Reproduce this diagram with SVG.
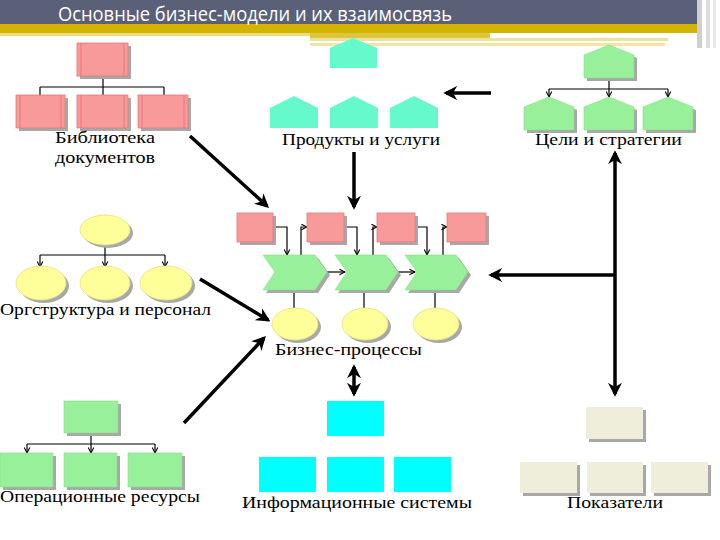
<svg xmlns="http://www.w3.org/2000/svg" width="720" height="540" viewBox="0 0 720 540">
<style>
.lbl{font-family:"Liberation Serif","DejaVu Serif",serif;font-size:17px;fill:#000}
.pink{fill:#f99a9a;stroke:#e87878;stroke-width:0.8}
.aqua{fill:#66f9cc}
.lg{fill:#99f09b;stroke:#88dd8a;stroke-width:0.6}
.yel{fill:#ffff99;stroke:#e6e080;stroke-width:0.8}
.cyan{fill:#00ffff}
.beige{fill:#eeeedb}
.sh{fill:#a8a8a8}
.thin{fill:none;stroke:#000;stroke-width:1.2}
.thick{fill:none;stroke:#000;stroke-width:3.5}
</style>
<defs>
<marker id="sa" viewBox="0 0 10 10" refX="9" refY="5" markerWidth="7" markerHeight="7" markerUnits="userSpaceOnUse" orient="auto">
<path d="M1,1 L9,5 L1,9" fill="none" stroke="#000" stroke-width="1.5"/>
</marker>
<marker id="ba" viewBox="0 0 10 10" refX="8" refY="5" markerWidth="4" markerHeight="4" orient="auto-start-reverse">
<path d="M0,0 L10,5 L0,10 L3,5 Z" fill="#000"/>
</marker>
</defs>
<rect width="720" height="540" fill="#fff"/>
<g id="header">
<rect x="0" y="0" width="697" height="24" fill="#5b6079"/>
<rect x="0" y="24" width="697" height="9" fill="#d4b400"/>
<rect x="0" y="33" width="310" height="3" fill="#ecdc80"/>
<rect x="310" y="33" width="180" height="5" fill="#dcc640"/>
<rect x="310" y="38" width="358" height="3" fill="#eee29a"/>
<rect x="310" y="43" width="355" height="3" fill="#f0e6a8"/>
<rect x="697" y="0" width="5" height="48" fill="#cfcfcf"/>
<rect x="706" y="0" width="4" height="48" fill="#dcdcdc"/>
<rect x="713" y="0" width="3" height="48" fill="#e8e8e8"/>
<text x="58" y="21" font-family="'Open Sans','Noto Sans','DejaVu Sans',sans-serif" font-size="20" fill="#fff" textLength="394" lengthAdjust="spacingAndGlyphs">Основные бизнес-модели и их взаимосвязь</text>
</g>
<g id="connectors">
<path class="thin" d="M103,76 V87 M40,87 H164 M40,87 V95 M103,87 V95 M164,87 V95"/>
<path class="thin" d="M609,78 V89 M549,89 H668"/>
<path class="thin" marker-end="url(#sa)" d="M549,89 V97"/>
<path class="thin" marker-end="url(#sa)" d="M609,89 V97"/>
<path class="thin" marker-end="url(#sa)" d="M668,89 V97"/>
<path class="thin" d="M105,245 V255 M40,255 H165"/>
<path class="thin" marker-end="url(#sa)" d="M40,255 V267"/>
<path class="thin" marker-end="url(#sa)" d="M105,255 V267"/>
<path class="thin" marker-end="url(#sa)" d="M165,255 V267"/>
<path class="thin" d="M91,433 V444 M27,444 H155"/>
<path class="thin" marker-end="url(#sa)" d="M27,444 V453"/>
<path class="thin" marker-end="url(#sa)" d="M91,444 V453"/>
<path class="thin" marker-end="url(#sa)" d="M155,444 V453"/>
<path class="thin" marker-end="url(#sa)" d="M273,227 H287 V255"/>
<path class="thin" marker-end="url(#sa)" d="M301,255 V227 H307"/>
<path class="thin" marker-end="url(#sa)" d="M344,227 H357 V255"/>
<path class="thin" marker-end="url(#sa)" d="M373,255 V227 H377"/>
<path class="thin" marker-end="url(#sa)" d="M415,227 H427 V255"/>
<path class="thin" marker-end="url(#sa)" d="M443,255 V227 H447"/>
<path class="thin" marker-end="url(#sa)" d="M327,272 H345"/>
<path class="thin" marker-end="url(#sa)" d="M398,272 H415"/>
<path class="thin" d="M294,290 V308 M364,290 V308 M435,290 V308"/>
<path class="thick" marker-end="url(#ba)" d="M491,93 H446"/>
<path class="thick" marker-end="url(#ba)" d="M190,136 L267,206"/>
<path class="thick" marker-end="url(#ba)" d="M354,152 V207"/>
<path class="thick" marker-end="url(#ba)" d="M200,279 L268,320"/>
<path class="thick" marker-end="url(#ba)" d="M184,423 L264,338"/>
<path class="thick" marker-start="url(#ba)" marker-end="url(#ba)" d="M354,367 V394"/>
<path class="thick" marker-start="url(#ba)" marker-end="url(#ba)" d="M615,153 V394"/>
<path class="thick" marker-end="url(#ba)" d="M615,275 H491"/>
</g>
<g id="library">
<rect class="sh" x="80" y="46" width="51" height="33"/>
<rect class="pink" x="77" y="43" width="51" height="33"/>
<rect class="sh" x="19" y="98" width="49" height="33"/>
<rect class="pink" x="16" y="95" width="49" height="33"/>
<rect class="sh" x="80" y="98" width="51" height="33"/>
<rect class="pink" x="77" y="95" width="51" height="33"/>
<rect class="sh" x="141" y="98" width="50" height="33"/>
<rect class="pink" x="138" y="95" width="50" height="33"/>
<path d="M20,95 V128 M61,95 V128 M81,95 V128 M124,95 V128 M142,95 V128 M184,95 V128 M81,43 V76 M124,43 V76" stroke="#e57070" stroke-width="0.8"/>
<text class="lbl" x="55" y="143" textLength="100" lengthAdjust="spacingAndGlyphs">Библиотека</text>
<text class="lbl" x="55" y="163" textLength="100" lengthAdjust="spacingAndGlyphs">документов</text>
</g>
<g id="products">
<path class="aqua" d="M330,48 L353,38 L377,48 V68 H330 Z"/>
<path class="aqua" d="M270,108 L294,96 L318,108 V128 H270 Z"/>
<path class="aqua" d="M330,108 L354,96 L378,108 V128 H330 Z"/>
<path class="aqua" d="M390,108 L414,96 L438,108 V128 H390 Z"/>
<text class="lbl" x="282" y="145" textLength="158" lengthAdjust="spacingAndGlyphs">Продукты и услуги</text>
</g>
<g id="goals">
<path class="sh" d="M587,58 L612,48 L637,58 V81 H587 Z"/>
<path class="lg" d="M584,55 L609,45 L634,55 V78 H584 Z"/>
<path class="sh" d="M527,110 L552,100 L577,110 V133 H527 Z"/>
<path class="lg" d="M524,107 L549,97 L574,107 V130 H524 Z"/>
<path class="sh" d="M587,110 L612,100 L637,110 V133 H587 Z"/>
<path class="lg" d="M584,107 L609,97 L634,107 V130 H584 Z"/>
<path class="sh" d="M646,110 L671,100 L696,110 V133 H646 Z"/>
<path class="lg" d="M643,107 L668,97 L693,107 V130 H643 Z"/>
<text class="lbl" x="535" y="145" textLength="147" lengthAdjust="spacingAndGlyphs">Цели и стратегии</text>
</g>
<g id="org">
<ellipse class="sh" cx="108" cy="233" rx="25" ry="15"/>
<ellipse class="yel" cx="105" cy="230" rx="25" ry="15"/>
<ellipse class="sh" cx="44" cy="286" rx="25" ry="17"/>
<ellipse class="yel" cx="41" cy="283" rx="25" ry="17"/>
<ellipse class="sh" cx="108" cy="286" rx="25" ry="17"/>
<ellipse class="yel" cx="105" cy="283" rx="25" ry="17"/>
<ellipse class="sh" cx="169" cy="286" rx="26" ry="17"/>
<ellipse class="yel" cx="166" cy="283" rx="26" ry="17"/>
<text class="lbl" x="0" y="315" textLength="211" lengthAdjust="spacingAndGlyphs">Оргструктура и персонал</text>
</g>
<g id="processes">
<rect class="sh" x="240" y="216" width="36" height="29"/>
<rect class="pink" x="237" y="213" width="36" height="29"/>
<rect class="sh" x="310" y="216" width="37" height="29"/>
<rect class="pink" x="307" y="213" width="37" height="29"/>
<rect class="sh" x="380" y="216" width="38" height="29"/>
<rect class="pink" x="377" y="213" width="38" height="29"/>
<rect class="sh" x="450" y="216" width="39" height="29"/>
<rect class="pink" x="447" y="213" width="39" height="29"/>
<path class="sh" d="M266,258 H318 L330,275 L318,293 H266 L278,275 Z"/>
<path class="lg" d="M263,255 H315 L327,272 L315,290 H263 L275,272 Z"/>
<path class="sh" d="M338,258 H389 L401,275 L389,293 H338 L350,275 Z"/>
<path class="lg" d="M335,255 H386 L398,272 L386,290 H335 L347,272 Z"/>
<path class="sh" d="M408,258 H459 L471,275 L459,293 H408 L420,275 Z"/>
<path class="lg" d="M405,255 H456 L468,272 L456,290 H405 L417,272 Z"/>
<ellipse class="sh" cx="298" cy="327" rx="23" ry="16"/>
<ellipse class="yel" cx="295" cy="324" rx="23" ry="16"/>
<ellipse class="sh" cx="368" cy="327" rx="23" ry="16"/>
<ellipse class="yel" cx="365" cy="324" rx="23" ry="16"/>
<ellipse class="sh" cx="439" cy="327" rx="23" ry="16"/>
<ellipse class="yel" cx="436" cy="324" rx="23" ry="16"/>
<text class="lbl" x="275" y="355" textLength="147" lengthAdjust="spacingAndGlyphs">Бизнес-процессы</text>
</g>
<g id="opres">
<rect class="sh" x="67" y="404" width="54" height="32"/>
<rect class="lg" x="64" y="401" width="54" height="32"/>
<rect class="sh" x="3" y="456" width="53" height="34"/>
<rect class="lg" x="0" y="453" width="53" height="34"/>
<rect class="sh" x="67" y="456" width="53" height="34"/>
<rect class="lg" x="64" y="453" width="53" height="34"/>
<rect class="sh" x="131" y="456" width="54" height="34"/>
<rect class="lg" x="128" y="453" width="54" height="34"/>
<text class="lbl" x="0" y="502" textLength="200" lengthAdjust="spacingAndGlyphs">Операционные ресурсы</text>
</g>
<g id="infosys">
<rect class="cyan" x="327" y="401" width="57" height="35"/>
<rect class="cyan" x="259" y="457" width="57" height="35"/>
<rect class="cyan" x="327" y="457" width="57" height="35"/>
<rect class="cyan" x="394" y="457" width="57" height="35"/>
<text class="lbl" x="242" y="508" textLength="230" lengthAdjust="spacingAndGlyphs">Информационные системы</text>
</g>
<g id="indicators">
<rect class="sh" x="589" y="410" width="57" height="32"/>
<rect class="beige" x="586" y="407" width="57" height="32"/>
<rect class="sh" x="523" y="465" width="57" height="31"/>
<rect class="beige" x="520" y="462" width="57" height="31"/>
<rect class="sh" x="590" y="465" width="56" height="31"/>
<rect class="beige" x="587" y="462" width="56" height="31"/>
<rect class="sh" x="654" y="465" width="57" height="31"/>
<rect class="beige" x="651" y="462" width="57" height="31"/>
<text class="lbl" x="567" y="508" textLength="96" lengthAdjust="spacingAndGlyphs">Показатели</text>
</g>
</svg>
